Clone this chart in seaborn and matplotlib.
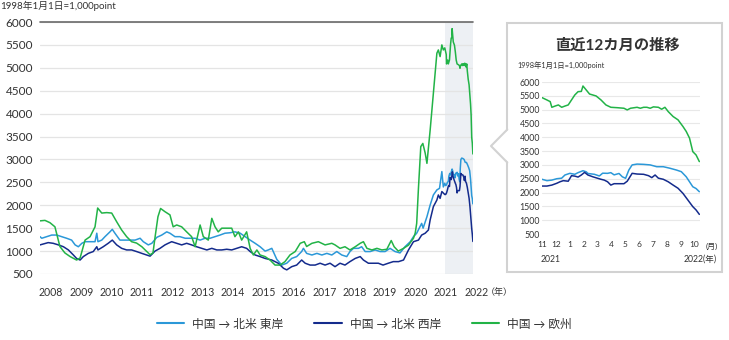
import numpy as np
import pandas as pd
import matplotlib
matplotlib.use("Agg")
import matplotlib.pyplot as plt
from matplotlib.lines import Line2D
from matplotlib.patches import Rectangle, Polygon
import seaborn as sns

# ---- data: freight index, 1998-01-01 = 1,000 points (time in fractional years) ----
routes = ["中国 → 北米 東岸", "中国 → 北米 西岸", "中国 → 欧州"]
colors = ["#2b98d8", "#142b8c", "#22b347"]

east_t = [2008.00, 2008.06, 2008.23, 2008.40, 2008.57, 2008.74, 2008.91, 2009.08, 2009.20, 2009.31,
          2009.43, 2009.54, 2009.71, 2009.88, 2009.94, 2009.98, 2010.11, 2010.22, 2010.39, 2010.47,
          2010.56, 2010.73, 2010.90, 2011.08, 2011.25, 2011.42, 2011.53, 2011.70, 2011.82, 2011.99,
          2012.16, 2012.33, 2012.44, 2012.61, 2012.78, 2012.96, 2013.13, 2013.30, 2013.47, 2013.64,
          2013.81, 2013.98, 2014.15, 2014.32, 2014.49, 2014.66, 2014.84, 2015.01, 2015.18, 2015.35,
          2015.52, 2015.69, 2015.80, 2015.92, 2015.97, 2016.09, 2016.26, 2016.43, 2016.60, 2016.77,
          2016.94, 2017.00, 2017.11, 2017.29, 2017.46, 2017.63, 2017.80, 2017.97, 2018.14, 2018.31,
          2018.48, 2018.59, 2018.71, 2018.88, 2018.99, 2019.11, 2019.28, 2019.45, 2019.62, 2019.79,
          2019.96, 2020.13, 2020.30, 2020.47, 2020.65, 2020.76, 2020.87, 2021.04, 2021.09, 2021.22,
          2021.33, 2021.44, 2021.56, 2021.65, 2021.73, 2021.78,
          2021.83, 2021.86, 2021.89, 2021.92, 2021.95, 2021.97, 2022.00, 2022.03, 2022.05, 2022.08,
          2022.10, 2022.11, 2022.15, 2022.18, 2022.20, 2022.23, 2022.25, 2022.27, 2022.30, 2022.32,
          2022.34, 2022.36, 2022.38, 2022.41, 2022.45, 2022.49, 2022.53, 2022.57, 2022.61, 2022.65,
          2022.68, 2022.71, 2022.73, 2022.75, 2022.77, 2022.79]
east_v = [1315, 1280, 1315, 1350, 1350, 1315, 1280, 1240, 1135, 1095,
          1170, 1205, 1205, 1205, 1390, 1205, 1240, 1315, 1420, 1475,
          1390, 1240, 1240, 1240, 1240, 1280, 1205, 1135, 1170, 1300,
          1350, 1420, 1390, 1315, 1315, 1280, 1280, 1280, 1240, 1280,
          1280, 1315, 1350, 1390, 1400, 1420, 1390, 1315, 1240, 1170,
          1095, 1000, 1025, 1060, 990, 820, 695, 735, 840, 880,
          990, 1060, 950, 915, 950, 915, 950, 915, 990, 915,
          880, 990, 1060, 1060, 1095, 990, 990, 1025, 990, 990,
          1060, 990, 960, 1095, 1205, 1315, 1390, 1605, 1500, 1750,
          2005, 2225, 2335, 2370, 2735, 2400,
          2480, 2430, 2450, 2500, 2520, 2635, 2695, 2660, 2720, 2790,
          2750, 2690, 2660, 2600, 2700, 2695, 2720, 2640, 2690, 2570,
          2515, 2815, 3000, 3030, 3020, 3000, 2935, 2935, 2880, 2815,
          2755, 2570, 2390, 2210, 2145, 2030]

west_t = [2008.00, 2008.11, 2008.28, 2008.45, 2008.63, 2008.80, 2008.97, 2009.14, 2009.25, 2009.37,
          2009.48, 2009.65, 2009.82, 2009.94, 2009.98, 2010.16, 2010.33, 2010.47, 2010.62, 2010.79,
          2010.96, 2011.13, 2011.30, 2011.48, 2011.65, 2011.76, 2011.93, 2012.10, 2012.27, 2012.38,
          2012.50, 2012.67, 2012.84, 2013.01, 2013.18, 2013.35, 2013.53, 2013.70, 2013.87, 2014.04,
          2014.21, 2014.38, 2014.55, 2014.72, 2014.89, 2015.06, 2015.18, 2015.35, 2015.52, 2015.69,
          2015.92, 2016.14, 2016.32, 2016.43, 2016.60, 2016.77, 2016.94, 2017.06, 2017.23, 2017.40,
          2017.57, 2017.74, 2017.91, 2018.08, 2018.25, 2018.42, 2018.59, 2018.77, 2018.94, 2019.05,
          2019.22, 2019.39, 2019.56, 2019.72, 2019.90, 2020.07, 2020.25, 2020.42, 2020.59, 2020.76,
          2020.93, 2021.04, 2021.16, 2021.27, 2021.33, 2021.44, 2021.56, 2021.61, 2021.67, 2021.73,
          2021.83, 2021.86, 2021.89, 2021.92, 2021.94, 2021.96, 2021.99, 2022.01, 2022.03, 2022.05,
          2022.07, 2022.09, 2022.11, 2022.14, 2022.17, 2022.19, 2022.21, 2022.23, 2022.25, 2022.27,
          2022.30, 2022.33, 2022.35, 2022.38, 2022.41, 2022.45, 2022.48, 2022.50, 2022.52, 2022.54,
          2022.57, 2022.60, 2022.63, 2022.66, 2022.69, 2022.72, 2022.75, 2022.77, 2022.79]
west_v = [1135, 1155, 1185, 1170, 1135, 1095, 1025, 915, 840, 805,
          880, 950, 990, 1095, 1025, 1095, 1170, 1240, 1135, 1060,
          1025, 1025, 990, 950, 915, 890, 1000, 1060, 1135, 1170,
          1205, 1170, 1135, 1170, 1135, 1095, 1060, 1025, 1060, 1025,
          1025, 1040, 1025, 1060, 1095, 1060, 990, 915, 880, 840,
          805, 735, 625, 590, 660, 695, 805, 735, 695, 695,
          735, 695, 735, 660, 735, 695, 770, 840, 880, 805,
          735, 735, 735, 695, 735, 770, 770, 805, 1025, 1205,
          1240, 1350, 1390, 1460, 1680, 1970, 2115, 2225, 2150, 2300,
          2235, 2235, 2270, 2335, 2390, 2430, 2410, 2610, 2595, 2560,
          2635, 2730, 2635, 2570, 2515, 2480, 2450, 2390, 2270, 2320,
          2320, 2320, 2410, 2695, 2670, 2660, 2610, 2540, 2635, 2520,
          2480, 2390, 2270, 2155, 1970, 1730, 1490, 1370, 1210]

europe_t = [2008.00, 2008.17, 2008.34, 2008.51, 2008.68, 2008.85, 2009.03, 2009.25, 2009.37, 2009.54,
            2009.71, 2009.88, 2009.97, 2010.11, 2010.28, 2010.45, 2010.62, 2010.79, 2010.96, 2011.13,
            2011.30, 2011.48, 2011.65, 2011.76, 2011.86, 2011.93, 2012.03, 2012.12, 2012.27, 2012.44,
            2012.55, 2012.67, 2012.84, 2013.01, 2013.18, 2013.30, 2013.47, 2013.58, 2013.75, 2013.87,
            2013.98, 2014.09, 2014.21, 2014.38, 2014.55, 2014.66, 2014.78, 2014.89, 2015.06, 2015.18,
            2015.29, 2015.41, 2015.52, 2015.69, 2015.86, 2016.03, 2016.20, 2016.37, 2016.54, 2016.72,
            2016.89, 2017.03, 2017.11, 2017.29, 2017.51, 2017.74, 2017.97, 2018.08, 2018.25, 2018.42,
            2018.59, 2018.77, 2018.94, 2019.05, 2019.17, 2019.34, 2019.51, 2019.68, 2019.85, 2020.00,
            2020.10, 2020.24, 2020.42, 2020.59, 2020.76, 2020.82, 2020.87, 2020.93, 2021.01, 2021.08,
            2021.16, 2021.22, 2021.33, 2021.44, 2021.56, 2021.61, 2021.67, 2021.73, 2021.78,
            2021.83, 2021.86, 2021.88, 2021.89, 2021.91, 2021.93, 2021.95, 2021.97, 2021.99, 2022.01,
            2022.03, 2022.05, 2022.07, 2022.08, 2022.10, 2022.12, 2022.16, 2022.19, 2022.22, 2022.25,
            2022.29, 2022.33, 2022.35, 2022.37, 2022.41, 2022.43, 2022.45, 2022.47, 2022.49, 2022.51,
            2022.54, 2022.56, 2022.58, 2022.60, 2022.63, 2022.66, 2022.69, 2022.71, 2022.73, 2022.75,
            2022.77, 2022.79]
europe_v = [1660, 1670, 1620, 1530, 1100, 960, 880, 805, 850, 1240,
            1315, 1530, 1940, 1830, 1840, 1830, 1640, 1460, 1315, 1205,
            1175, 1095, 990, 920, 960, 1300, 1750, 1930, 1860, 1790,
            1530, 1570, 1530, 1420, 1315, 1095, 1570, 1315, 1240, 1715,
            1530, 1420, 1500, 1500, 1500, 1315, 1420, 1240, 1420, 1060,
            915, 1025, 915, 880, 805, 695, 695, 770, 915, 990,
            1170, 1205, 1100, 1170, 1205, 1135, 1170, 1135, 1060, 1095,
            1025, 1095, 1170, 1205, 1060, 1025, 1060, 1025, 1040, 1230,
            1095, 1000, 1060, 1130, 1280, 1395, 1605, 2370, 3280, 3350,
            3140, 2915, 3640, 4445, 5320, 5390, 5245, 5500, 5390,
            5435, 5350, 5290, 5085, 5130, 5170, 5085, 5130, 5170, 5350,
            5530, 5650, 5660, 5855, 5710, 5565, 5495, 5350, 5170, 5085,
            5070, 5050, 4990, 5050, 5085, 5050, 5085, 5085, 5050, 5100,
            5085, 5015, 5085, 4930, 4750, 4630, 4390, 4210, 3970, 3480,
            3360, 3120]

years = list(range(2008, 2023))
yticks = list(range(500, 6001, 500))
month_labels = ["11", "12", "1", "2", "3", "4", "5", "6", "7", "8", "9", "10"]
recent_start = 2021.83
data_end = 2022.794

df = pd.concat([
    pd.DataFrame({"t": east_t, "v": east_v, "route": routes[0]}),
    pd.DataFrame({"t": west_t, "v": west_v, "route": routes[1]}),
    pd.DataFrame({"t": europe_t, "v": europe_v, "route": routes[2]}),
], ignore_index=True)
recent = df[df["t"] >= recent_start]
palette = dict(zip(routes, colors))

# ---- styling ----
sns.set_theme(style="white")
plt.rcParams["font.family"] = ["Lato", "Noto Sans CJK JP", "DejaVu Sans"]
TXT = "#333333"
GRID = "#e4e4e4"

W, H = 729, 340
fig = plt.figure(figsize=(W / 100, H / 100), dpi=100)
fig.patch.set_facecolor("white")


def rect(l, t, r, b):
    return [l / W, 1 - b / H, (r - l) / W, (b - t) / H]


# pixel-space overlay for the callout frame and free text
bg = fig.add_axes([0, 0, 1, 1], zorder=0)
bg.set_xlim(0, W)
bg.set_ylim(H, 0)
bg.axis("off")

# ---- main chart ----
ax = fig.add_axes(rect(40, 22, 473, 274), zorder=1)
ax.set_facecolor("none")
ax.axvspan(recent_start, data_end, color="#edf0f4", lw=0, zorder=0)
sns.lineplot(data=df, x="t", y="v", hue="route", palette=palette, estimator=None,
             linewidth=1.1, legend=False, ax=ax)
ax.set_xlim(2008.0, data_end)
ax.set_ylim(500, 6000)
ax.set_yticks(yticks)
ax.set_xticks([])
ax.set_xlabel("")
ax.set_ylabel("")
ax.set_axisbelow(True)
ax.grid(axis="y", color=GRID, lw=0.9)
ax.axhline(6000, color="#6a6a6a", lw=1.2, clip_on=False, zorder=5)
for s in ax.spines.values():
    s.set_visible(False)
ax.tick_params(axis="y", length=0, pad=5, labelsize=8.5, labelcolor=TXT)

# year labels spread evenly beneath the plot area
year_pos = np.linspace(2008.376, 2022.90, len(years))
for yr, xp in zip(years, year_pos):
    ax.text(xp, -0.072, str(yr), transform=ax.get_xaxis_transform(), ha="center", va="center",
            fontsize=7.6, color=TXT, clip_on=False)
bg.text(486, 292, "（年）", ha="left", va="center", fontsize=6.5, color=TXT)
bg.text(0, 6, "1998年1月1日=1,000point", ha="left", va="center", fontsize=7, color=TXT)

# ---- callout frame ----
bg.add_patch(Rectangle((507, 23), 215, 249, facecolor="white", edgecolor="#d2d2d2", lw=1.5))
bg.add_patch(Polygon([(509, 129), (491, 146), (509, 163)], closed=True, facecolor="white",
                     edgecolor="none"))
bg.add_line(Line2D([507.3, 491, 507.3], [129.5, 146, 162.5], color="#d2d2d2", lw=1.5))
bg.text(617, 46, "直近12カ月の推移", ha="center", va="center", fontsize=11,
        fontweight="bold", color=TXT)
bg.text(517, 65, "1998年1月1日=1,000point", ha="left", va="center", fontsize=5.3, color=TXT)

# ---- inset: last 12 months ----
axi = fig.add_axes(rect(542, 82, 700, 234), zorder=2)
axi.set_facecolor("none")
sns.lineplot(data=recent, x="t", y="v", hue="route", palette=palette, estimator=None,
             linewidth=1.1, legend=False, ax=axi)
axi.set_xlim(recent_start, data_end)
axi.set_ylim(500, 6000)
axi.set_yticks(yticks)
axi.set_xlabel("")
axi.set_ylabel("")
axi.set_axisbelow(True)
axi.grid(axis="y", color="#e8e8e8", lw=0.8)
for s in axi.spines.values():
    s.set_visible(False)
month_pos = recent_start + 0.0006 + np.arange(12) * (13.9 / 13.7) / 12
axi.set_xticks(month_pos)
axi.set_xticklabels(month_labels)
axi.tick_params(axis="y", length=0, pad=1.5, labelsize=6.3, labelcolor=TXT)
axi.tick_params(axis="x", length=0, pad=5, labelsize=6, labelcolor=TXT)
bg.text(712, 246.5, "(月)", ha="center", va="center", fontsize=5.8, color=TXT)
bg.text(551, 259, "2021", ha="center", va="center", fontsize=6.2, color=TXT)
bg.text(717, 259, "2022(年)", ha="right", va="center", fontsize=6.2, color=TXT)

# ---- legend ----
handles = [Line2D([0], [0], color=c, lw=1.5) for c in colors]
fig.legend(handles, routes, loc="center", bbox_to_anchor=(0.5, 1 - 324 / H), ncol=3,
           frameon=False, fontsize=8.5, handlelength=2.3, handletextpad=0.7,
           columnspacing=2.6, labelcolor=TXT)

fig.savefig("out.png", dpi=100, facecolor="white")
